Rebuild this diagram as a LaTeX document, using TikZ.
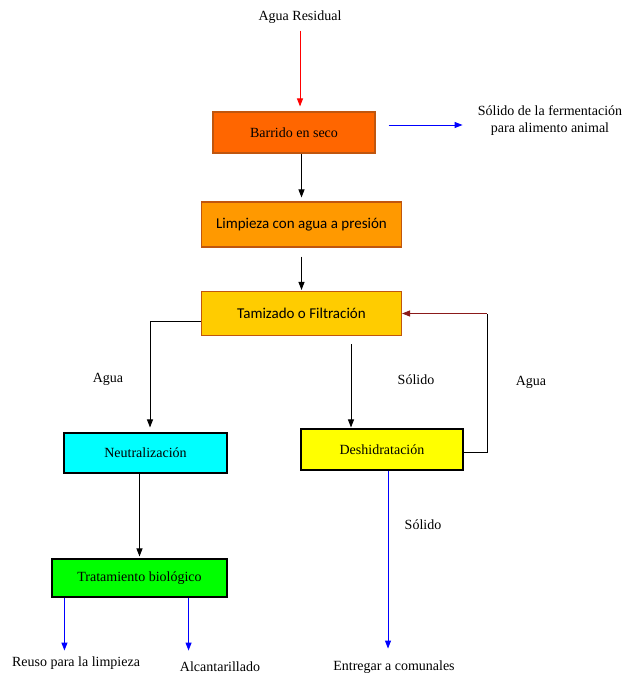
\documentclass[tikz,border=0pt]{standalone}
\usepackage{fontspec}
\setmainfont{Liberation Serif}
\newfontfamily\boxsans{Carlito}
\usetikzlibrary{arrows.meta}
\definecolor{barridoC}{HTML}{FF6600}
\definecolor{limpiezaC}{HTML}{FF9900}
\definecolor{tamizC}{HTML}{FFCC00}
\definecolor{neutralC}{HTML}{00FFFF}
\definecolor{deshidC}{HTML}{FFFF00}
\definecolor{tratamC}{HTML}{00FF00}
\definecolor{edgeC}{HTML}{C0560E}
\definecolor{loopC}{HTML}{8B1A1A}
\tikzset{
  procbox/.style={draw,line width=1.1pt,inner sep=0pt,font=\fontsize{14}{15}\selectfont},
  lbl/.style={inner sep=0pt,font=\fontsize{14}{15}\selectfont},
  arr/.style={line width=.9pt,-{Triangle[length=8pt,width=6pt]}},
}
\begin{document}
\begin{tikzpicture}[x=1pt,y=-1pt]
  \useasboundingbox[fill=white] (0,0) rectangle (635,679);
  % process boxes
  \node[procbox,draw=edgeC,fill=barridoC,minimum width=162pt,minimum height=41pt]
    (barrido) at (294,132.5) {Barrido en seco};
  \node[procbox,draw=edgeC,fill=limpiezaC,minimum width=200pt,minimum height=45pt,
    font=\boxsans\fontsize{15}{17}\selectfont] (limpieza) at (301.5,224.5)
    {Limpieza con agua a presión};
  \node[procbox,draw=edgeC,fill=tamizC,minimum width=200pt,minimum height=44pt,
    font=\boxsans\fontsize{15}{17}\selectfont] (tamizado) at (301.5,313.5)
    {Tamizado o Filtración};
  \node[procbox,fill=neutralC,minimum width=163pt,minimum height=40pt]
    (neutral) at (145.5,453) {Neutralización};
  \node[procbox,fill=deshidC,minimum width=162pt,minimum height=41pt]
    (deshid) at (382,449.5) {Deshidratación};
  \node[procbox,fill=tratamC,minimum width=175pt,minimum height=38pt]
    (tratam) at (139.5,578) {Tratamiento biológico};
  % texts
  \node[lbl] (agua) at (300,17) {Agua Residual};
  \node[lbl,align=center] (ferm) at (550,120.5)
    {Sólido de la fermentación\\[2pt]para alimento animal};
  \node[lbl] (aguaL) at (108,379) {Agua};
  \node[lbl] (solidoM) at (416,380) {Sólido};
  \node[lbl] (aguaR) at (531,382) {Agua};
  \node[lbl] (solidoB) at (423,525) {Sólido};
  \node[lbl] (reuso) at (76,663) {Reuso para la limpieza};
  \node[lbl] (alcant) at (220,667) {Alcantarillado};
  \node[lbl] (entregar) at (394,667) {Entregar a comunales};
  \coordinate (loop) at (487,313.5);
  % connectors
  \draw[arr,red,shorten <=7pt,shorten >=5pt] (agua.south) -- (agua.south |- barrido.north);
  \draw[arr,blue] ([shift={(13pt,7.5pt)}]barrido.east) -- ++(74,0);
  \draw[arr,shorten >=4pt] (limpieza.north |- barrido.south) -- (limpieza.north);
  \draw[arr,shorten <=9pt,shorten >=1pt] (limpieza.south) -- (tamizado.north);
  \draw[arr,shorten >=5pt] ([yshift=-7.5pt]tamizado.west) -| ([xshift=4.5pt]neutral.north);
  \draw[arr,shorten <=8pt,shorten >=1pt] ([xshift=-31pt]deshid.north |- tamizado.south)
    -- ([xshift=-31pt]deshid.north);
  \draw[line width=.9pt] ([yshift=-2.5pt]deshid.east) -| (loop);
  \draw[arr,loopC] (loop) -- (tamizado.east);
  \draw[arr,shorten >=2pt] (tratam.north |- neutral.south) -- (tratam.north);
  \draw[arr,blue] ([xshift=13pt]tratam.south west) -- ++(0,53);
  \draw[arr,blue] ([xshift=-39pt]tratam.south east) -- ++(0,53);
  \draw[arr,blue] ([xshift=6pt]deshid.south) -- ++(0,178);
\end{tikzpicture}
\end{document}
